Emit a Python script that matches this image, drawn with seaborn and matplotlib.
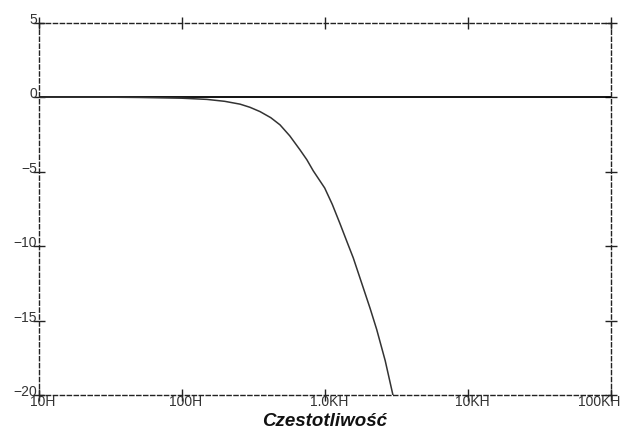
"""Frequency response of a low-pass filter (gain in dB vs. frequency)."""

import matplotlib
matplotlib.use("Agg")
import matplotlib.pyplot as plt
import matplotlib.transforms as mtransforms
import pandas as pd
import seaborn as sns

# values
freq_hz = [10, 30, 50, 100, 150, 200, 256, 300, 353, 420, 487, 570, 672,
           750, 832, 1000, 1130, 1280, 1430, 1585, 1860, 2080, 2310, 2650, 3000]
gain_db = [0.0, 0.0, -0.02, -0.07, -0.15, -0.28, -0.47, -0.68, -0.97, -1.38,
           -1.86, -2.6, -3.54, -4.2, -4.95, -6.1, -7.2, -8.5, -9.7, -10.8,
           -12.8, -14.2, -15.6, -17.7, -20.0]
ref_freq = [10, 100000]
ref_gain = [0.0, 0.0]

x_ticks = [10, 100, 1000, 10000, 100000]
x_labels = ["10H", "100H", "1.0KH", "10KH", "100KH"]
y_ticks = [5, 0, -5, -10, -15, -20]
y_labels = ["5", "0", "\u22125", "\u221210", "\u221215", "\u221220"]

sns.set_style("white")
plt.rcParams["font.family"] = ["Liberation Sans", "DejaVu Sans"]

curve = pd.DataFrame({"f": freq_hz, "db": gain_db})
ref = pd.DataFrame({"f": ref_freq, "db": ref_gain})

fig = plt.figure(figsize=(6.2, 4.34), dpi=100)
ax = fig.add_axes([0.0624, 0.0899, 0.9226, 0.8578])

sns.lineplot(data=ref, x="f", y="db", ax=ax, color="black", linewidth=1.3)
sns.lineplot(data=curve, x="f", y="db", ax=ax, color="#333333", linewidth=1.1)

ax.set_xscale("log")
ax.set_xlim(10, 100000)
ax.set_ylim(-20, 5)
ax.set_xticks(x_ticks)
ax.set_xticklabels(x_labels)
ax.set_yticks(y_ticks)
ax.set_yticklabels(y_labels)
ax.minorticks_off()

ax.tick_params(axis="both", which="major", direction="inout", length=8,
               width=1, color="#222222", labelsize=10, labelcolor="#333333",
               top=True, right=True, bottom=True, left=True)
ax.tick_params(axis="x", pad=-4)
ax.tick_params(axis="y", pad=-3)

# nudge labels like the original: y labels a bit up, x labels a bit right
up = mtransforms.ScaledTranslation(0, 3 / 72, fig.dpi_scale_trans)
for lab in ax.get_yticklabels():
    lab.set_transform(lab.get_transform() + up)
right = mtransforms.ScaledTranslation(3 / 72, 0, fig.dpi_scale_trans)
xlabs = ax.get_xticklabels()
for lab in xlabs[:-1]:
    lab.set_transform(lab.get_transform() + right)
xlabs[-1].set_horizontalalignment("right")
xlabs[-1].set_transform(xlabs[-1].get_transform()
                        + mtransforms.ScaledTranslation(7 / 72, 0, fig.dpi_scale_trans))

for spine in ax.spines.values():
    spine.set_linestyle((0, (3, 2)))
    spine.set_linewidth(1)
    spine.set_color("#222222")

ax.set_ylabel("")
ax.set_xlabel("Czestotliwość", fontsize=13.5, fontweight="bold",
              fontstyle="italic", color="#111111", labelpad=3)

fig.savefig("out.png", dpi=100)
